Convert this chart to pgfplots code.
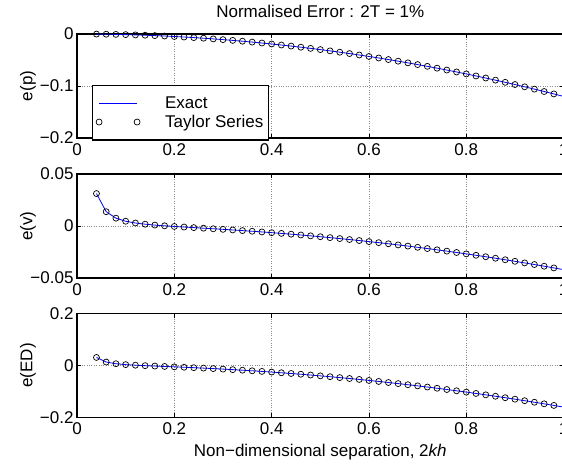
\documentclass[border=0pt]{standalone}
\usepackage{pgfplots}
\pgfplotsset{compat=1.18}
\usepackage{pgfplotstable}
\usepackage{fontspec}
\setmainfont{Liberation Sans}

\pgfplotstableread{
x ep ev eed
0.04 -0.00019 0.03118 0.03099
0.06 -0.00043 0.01374 0.01331
0.08 -0.00077 0.00754 0.00679
0.10 -0.00120 0.00458 0.00340
0.12 -0.00173 0.00287 0.00117
0.14 -0.00235 0.00173 -0.00059
0.16 -0.00307 0.00087 -0.00215
0.18 -0.00389 0.00018 -0.00364
0.20 -0.00480 -0.00043 -0.00515
0.22 -0.00581 -0.00100 -0.00671
0.24 -0.00691 -0.00155 -0.00835
0.26 -0.00811 -0.00210 -0.01008
0.28 -0.00941 -0.00265 -0.01190
0.30 -0.01080 -0.00322 -0.01384
0.32 -0.01229 -0.00381 -0.01589
0.34 -0.01387 -0.00443 -0.01807
0.36 -0.01555 -0.00505 -0.02035
0.38 -0.01733 -0.00571 -0.02275
0.40 -0.01920 -0.00641 -0.02529
0.42 -0.02117 -0.00713 -0.02794
0.44 -0.02323 -0.00787 -0.03072
0.46 -0.02539 -0.00865 -0.03362
0.48 -0.02765 -0.00946 -0.03664
0.50 -0.03000 -0.01030 -0.03980
0.52 -0.03245 -0.01118 -0.04308
0.54 -0.03499 -0.01208 -0.04649
0.56 -0.03763 -0.01301 -0.05002
0.58 -0.04037 -0.01398 -0.05367
0.60 -0.04320 -0.01498 -0.05746
0.62 -0.04613 -0.01601 -0.06137
0.64 -0.04915 -0.01708 -0.06542
0.66 -0.05227 -0.01819 -0.06959
0.68 -0.05549 -0.01931 -0.07387
0.70 -0.05880 -0.02048 -0.07830
0.72 -0.06221 -0.02167 -0.08284
0.74 -0.06571 -0.02291 -0.08753
0.76 -0.06931 -0.02417 -0.09233
0.78 -0.07301 -0.02547 -0.09726
0.80 -0.07680 -0.02680 -0.10232
0.82 -0.08069 -0.02817 -0.10751
0.84 -0.08467 -0.02957 -0.11283
0.86 -0.08875 -0.03099 -0.11827
0.88 -0.09293 -0.03246 -0.12384
0.90 -0.09720 -0.03396 -0.12954
0.92 -0.10157 -0.03549 -0.13536
0.94 -0.10603 -0.03705 -0.14132
0.96 -0.11059 -0.03866 -0.14741
0.98 -0.11525 -0.04029 -0.15361
1.00 -0.12000 -0.04195 -0.15995
}\datatable

\pgfplotsset{
  myaxis/.style={
    scale only axis,
    width=486.6pt, height=104pt,
    xmin=0, xmax=1,
    xtick={0,0.2,0.4,0.6,0.8,1},
    xticklabels={0,0.2,0.4,0.6,0.8,1},
    scaled y ticks=false, scaled x ticks=false,
    grid=major,
    major grid style={dotted, gray!90, line width=0.7pt},
    axis line style={line width=1.3pt, black},
    tick style={black, line width=0.8pt},
    tick align=inside,
    major tick length=4pt,
    font=\fontsize{17}{20}\selectfont,
    /pgf/number format/assume math mode=true,
    xticklabel style={yshift=-2pt},
    ylabel style={at={(0,0.5)}, anchor=center, yshift=49pt},
    clip=true,
  },
  exact/.style={blue, line width=0.8pt, no marks},
  taylor/.style={only marks, mark=o, mark size=3pt, black, mark options={line width=0.7pt}},
}

\begin{document}
\begin{tikzpicture}
\begin{axis}[myaxis, at={(77pt,325pt)}, anchor=south west,
  ymin=-0.2, ymax=0,
  ytick={-0.2,-0.1,0}, yticklabels={−0.2,−0.1,0},
  ylabel={e(p)},
  title={Normalised Error : 2T = 1\%},
  title style={at={(0.5,1)}, anchor=base, yshift=10pt, inner sep=0pt},
  legend style={at={(0.031,-0.025)}, anchor=south west, draw=black, line width=1.3pt,
    font=\fontsize{17}{20}\selectfont, inner xsep=3pt, inner ysep=9pt,
    row sep=1.5pt},
  legend cell align=left,
]
\addplot[exact, forget plot] table[x=x, y=ep] {\datatable};
\addlegendimage{exact, legend image code/.code={\fill[fill=blue, draw=none] (0pt,-0.5pt) rectangle (38pt,0.5pt); \draw[draw=blue, color=blue, line width=0.9pt] (0pt,0pt) -- (38pt,0pt); \path[draw=none, fill=none] (0pt,0pt) -- (64pt,0pt);}}
\addlegendentry{Exact}
\addplot[taylor, restrict x to domain=0:0.99,
  legend image code/.code={\draw[draw=black, line width=0.7pt] (0pt,0pt) circle (3pt) (38pt,0pt) circle (3pt); \path[draw=none, fill=none] (0pt,0pt) -- (64pt,0pt);}]
  table[x=x, y=ep] {\datatable};
\addlegendentry{Taylor Series}
\end{axis}

\begin{axis}[myaxis, at={(77pt,185pt)}, anchor=south west,
  ymin=-0.05, ymax=0.05,
  ytick={-0.05,0,0.05}, yticklabels={−0.05,0,0.05},
  ylabel={e(v)},
]
\addplot[exact] table[x=x, y=ev] {\datatable};
\addplot[taylor, restrict x to domain=0:0.99] table[x=x, y=ev] {\datatable};
\end{axis}

\begin{axis}[myaxis, at={(77pt,45.5pt)}, anchor=south west,
  ymin=-0.2, ymax=0.2,
  ytick={-0.2,0,0.2}, yticklabels={−0.2,0,0.2},
  ylabel={e(ED)},
  xlabel={Non−dimensional separation, 2\textit{kh}},
  xlabel style={at={(0.5,0)}, anchor=base, yshift=-38.5pt, inner sep=0pt},
]
\addplot[exact] table[x=x, y=eed] {\datatable};
\addplot[taylor, restrict x to domain=0:0.99] table[x=x, y=eed] {\datatable};
\end{axis}
\pgfresetboundingbox
\path[use as bounding box] (0,0) rectangle (562pt,463pt);
\end{tikzpicture}
\end{document}
